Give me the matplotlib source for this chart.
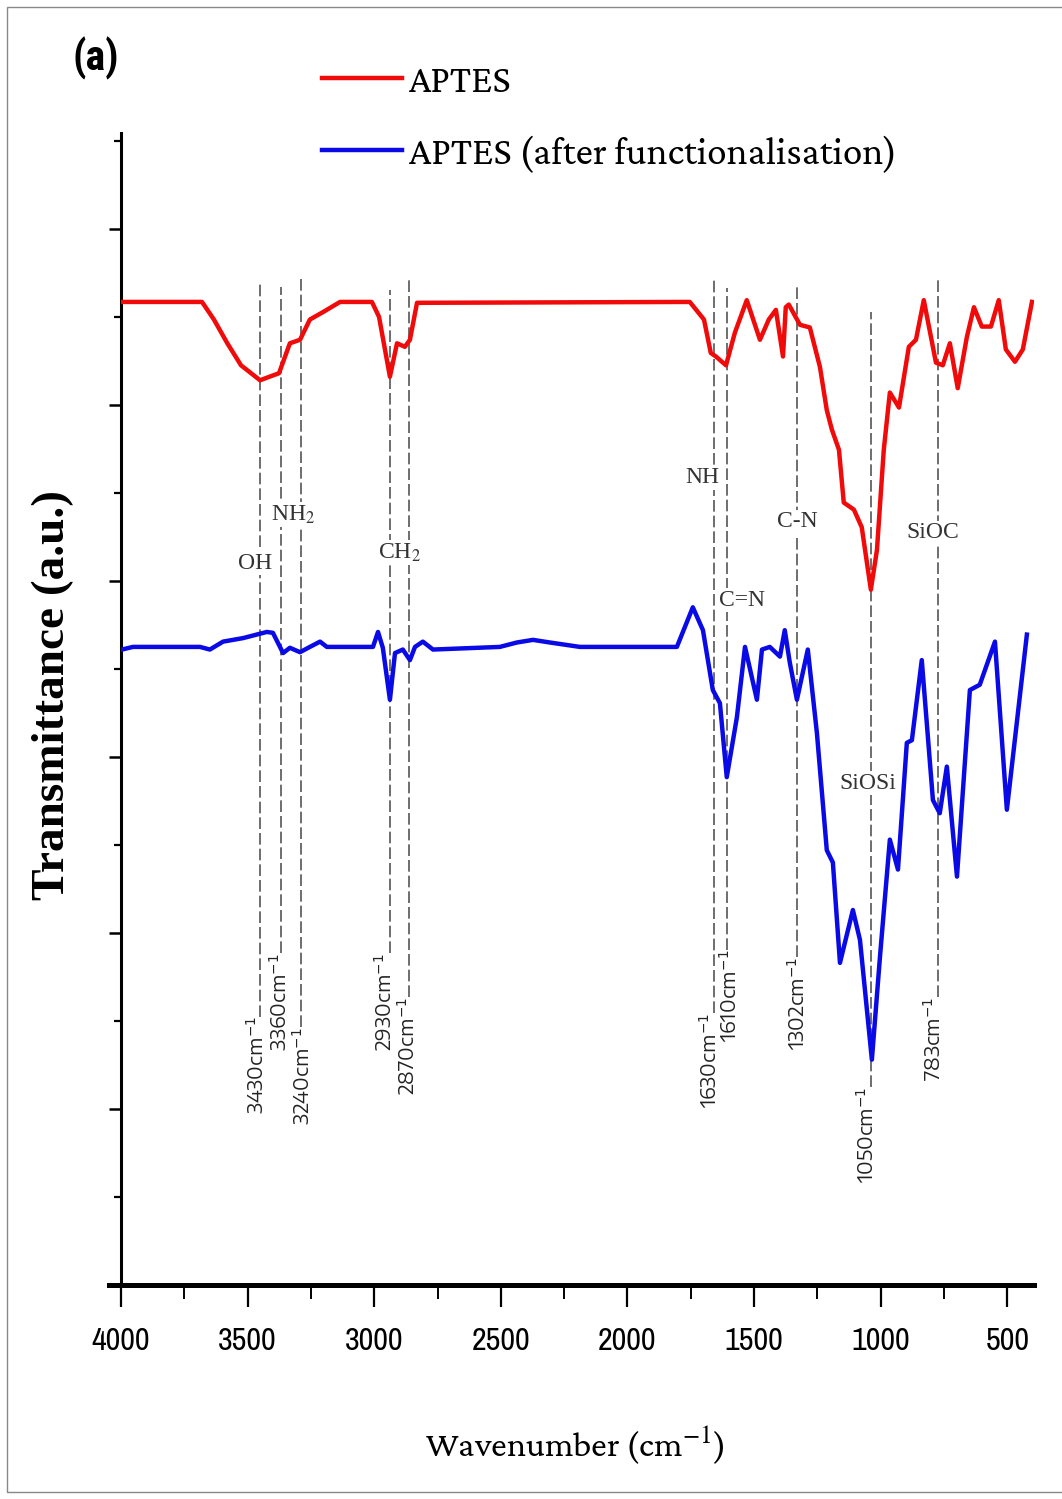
import matplotlib
matplotlib.use('Agg')
import matplotlib.pyplot as plt
from matplotlib.ticker import MultipleLocator
from matplotlib.patches import Rectangle
from matplotlib import font_manager

# FTIR spectra (wavenumber in cm-1, transmittance in a.u.)
aptes_wn = [4000, 3680, 3633, 3580, 3526, 3451, 3376, 3333, 3293, 3254, 3199,
            3135, 3009, 2981, 2938, 2910, 2879, 2859, 2831, 1754, 1698,
            1671, 1651, 1611, 1576, 1529, 1477, 1442, 1414, 1386, 1375,
            1363, 1319, 1280, 1240, 1213, 1193, 1165, 1146, 1106, 1075,
            1039, 1015, 988, 964, 928, 889, 861, 830, 782, 755,
            727, 696, 660, 632, 601, 565, 534, 506, 470, 439, 403]
aptes_t = [11.17, 11.17, 10.97, 10.70, 10.45, 10.28, 10.36, 10.70, 10.74, 10.97, 11.06,
           11.17, 11.17, 11.00, 10.32, 10.70, 10.66, 10.74, 11.16, 11.17, 10.97,
           10.59, 10.55, 10.45, 10.82, 11.19, 10.74, 10.97, 11.08, 10.55, 11.11,
           11.14, 10.91, 10.88, 10.43, 9.94, 9.72, 9.49, 8.89, 8.81, 8.61,
           7.90, 8.35, 9.49, 10.14, 9.97, 10.66, 10.74, 11.19, 10.48, 10.45,
           10.70, 10.19, 10.77, 11.11, 10.89, 10.89, 11.19, 10.63, 10.49, 10.63, 11.17]

func_wn = [3996, 3953, 3688, 3649, 3597, 3518, 3424, 3400, 3360, 3333,
           3293, 3254, 3214, 3187, 3005, 2985, 2966, 2938, 2918, 2887,
           2859, 2839, 2808, 2768, 2504, 2437, 2373, 2306, 2188, 1805,
           1742, 1702, 1663, 1635, 1608, 1568, 1536, 1489, 1469, 1438,
           1398, 1379, 1359, 1331, 1288, 1252, 1213, 1189, 1161, 1110,
           1082, 1035, 1003, 964, 932, 897, 877, 838, 794, 767,
           739, 699, 648, 609, 549, 502, 423]
func_t = [7.22, 7.25, 7.25, 7.22, 7.31, 7.35, 7.42, 7.41, 7.18, 7.24,
          7.19, 7.25, 7.31, 7.25, 7.25, 7.42, 7.24, 6.65, 7.18, 7.22,
          7.10, 7.25, 7.31, 7.22, 7.25, 7.30, 7.33, 7.30, 7.25, 7.25,
          7.70, 7.44, 6.76, 6.61, 5.77, 6.45, 7.25, 6.65, 7.22, 7.25,
          7.14, 7.44, 7.07, 6.65, 7.22, 6.27, 4.94, 4.80, 3.66, 4.26,
          3.92, 2.56, 3.73, 5.06, 4.72, 6.16, 6.19, 7.10, 5.51, 5.36,
          5.89, 4.64, 6.76, 6.82, 7.31, 5.40, 7.39]

# Band markers (dashed lines) and their rotated labels
band_pos = [3450, 3368, 3290, 2938, 2863, 1660, 1608, 1331, 1040, 775]
band_top = [11.39, 11.34, 11.44, 11.31, 11.44, 11.44, 11.33, 11.34, 11.06, 11.44]
band_bottom = [3.05, 3.77, 2.93, 3.77, 3.27, 3.09, 3.81, 3.73, 2.25, 3.27]
band_label_x = [3463, 3372, 3281, 2958, 2867, 1675, 1596, 1327, 1055, 790]
band_text = ['3430cm$^{-1}$', '3360cm$^{-1}$', '3240cm$^{-1}$', '2930cm$^{-1}$',
             '2870cm$^{-1}$', '1630cm$^{-1}$', '1610cm$^{-1}$', '1302cm$^{-1}$',
             '1050cm$^{-1}$', '783cm$^{-1}$']

# Functional group labels
group_text = ['OH', 'NH$_2$', 'CH$_2$', 'NH', 'C=N', 'C-N', 'SiOC', 'SiOSi']
group_x = [3471, 3321, 2899, 1706, 1548, 1331, 794, 1051]
group_y = [8.20, 8.75, 8.32, 9.17, 7.78, 8.67, 8.55, 5.70]

fonts = font_manager.fontManager.ttflist
installed = {f.name for f in fonts}


def pick(*cands):
    return next((c for c in cands if c in installed), cands[-1])


def has_bold(name):
    for f in fonts:
        w = f.weight
        if isinstance(w, str):
            w = 700 if 'bold' in w.lower() else 400
        if f.name == name and w >= 600:
            return True
    return False


sans_narrow = pick('Archivo Narrow', 'Roboto Condensed', 'PT Sans Narrow', 'Liberation Sans')
bold_narrow = next((c for c in ['Roboto Condensed', 'Archivo Narrow', 'PT Sans Narrow',
                                'Liberation Sans'] if c in installed and has_bold(c)),
                   'Liberation Sans')
serif_narrow = pick('Noto Serif Condensed', 'Noto Serif Display Condensed',
                    'Libre Caslon Condensed', 'Crimson Pro', 'Liberation Serif')
sans_wide = pick('Encode Sans Expanded', 'Lexend Exa', 'DejaVu Sans')

fig = plt.figure(figsize=(10.62, 14.99), dpi=100)
renderer = fig.canvas.get_renderer()


def fit_size(s, family, target, weight='normal', along='width', **kw):
    # font size at which the string s spans `target` pixels
    t = fig.text(0, 0, s, family=family, fontsize=20, fontweight=weight, **kw)
    bb = t.get_window_extent(renderer)
    t.remove()
    return 20 * target / getattr(bb, along)


ax = fig.add_axes([0.1139, 0.1428, 0.8597, 0.7685])

ax.plot(aptes_wn, aptes_t, color='#f00a0a', lw=3.2, label='APTES', zorder=3)
ax.plot(func_wn, func_t, color='#0a0ae6', lw=3.2,
        label='APTES (after functionalisation)', zorder=3)

ax.vlines(band_pos, band_bottom, band_top, colors='#555555', lw=1.2,
          linestyles=[(0, (7, 2.4))], zorder=1)
band_size = min(14, fit_size('3430cm$^{-1}$', sans_wide, 155))
for x, yb, t in zip(band_label_x, band_bottom, band_text):
    ax.text(x, yb, t, rotation=90, ha='center', va='top', fontsize=band_size,
            family=sans_wide, math_fontfamily='dejavusans', color='#222222')

for t, x, y in zip(group_text, group_x, group_y):
    ax.text(x, y, t, ha='center', va='center', fontsize=17,
            family='Liberation Serif', math_fontfamily='stix', color='#333333',
            bbox=dict(fc='white', ec='none', pad=1), zorder=2)

ax.set_xlim(4000, 395)
ax.set_ylim(0, 13.09)
for s in ['top', 'right']:
    ax.spines[s].set_visible(False)
ax.spines['left'].set_linewidth(2.2)
ax.spines['bottom'].set_linewidth(3.6)
ax.spines['bottom'].set_bounds(4047, 395)

tick_size = fit_size('4000', sans_narrow, 59)
ax.xaxis.set_major_locator(MultipleLocator(500))
ax.xaxis.set_minor_locator(MultipleLocator(250))
ax.yaxis.set_major_locator(MultipleLocator(2))
ax.yaxis.set_minor_locator(MultipleLocator(1))
ax.tick_params(axis='x', which='major', direction='out', length=16, width=1.6,
               pad=14, labelsize=tick_size, labelfontfamily=sans_narrow)
ax.tick_params(axis='x', which='minor', direction='out', length=10, width=1.4)
ax.tick_params(axis='y', which='major', direction='out', length=9, width=1.8, labelleft=False)
ax.tick_params(axis='y', which='minor', direction='out', length=5, width=1.6)

xl = 'Wavenumber (cm$^{-1}$)'
ax.set_xlabel(xl, family=serif_narrow, math_fontfamily='stix', va='center',
              fontsize=fit_size(xl, serif_narrow, 300, math_fontfamily='stix'))
ax.xaxis.set_label_coords(0.497, -0.139)
yl = 'Transmittance (a.u.)'
ax.set_ylabel(yl, family='Liberation Serif', fontweight='bold', va='center',
              fontsize=min(34, fit_size(yl, 'Liberation Serif', 540, weight='bold')))
ax.yaxis.set_label_coords(-0.0745, 0.512)

leg_size = fit_size('APTES (after functionalisation)', serif_narrow, 488)
ax.legend(loc='upper left', bbox_to_anchor=(322 / 1062, 1 - 64 / 1499),
          bbox_transform=fig.transFigure, frameon=False, borderpad=0,
          borderaxespad=0, handlelength=80 / (leg_size * 100 / 72),
          handletextpad=7 / (leg_size * 100 / 72), labelspacing=0.9,
          prop={'family': serif_narrow, 'size': leg_size})

fig.text(96 / 1062, 1 - 58 / 1499, '(a)', ha='center', va='center',
         fontsize=fit_size('(a)', bold_narrow, 47, weight='bold'),
         fontweight='bold', family=bold_narrow)

fig.add_artist(Rectangle((7 / 1062, 1 - 1492 / 1499), 1.0, 1485 / 1499,
                         transform=fig.transFigure, fill=False,
                         ec='#888888', lw=1))

fig.savefig('out.png', dpi=100)
